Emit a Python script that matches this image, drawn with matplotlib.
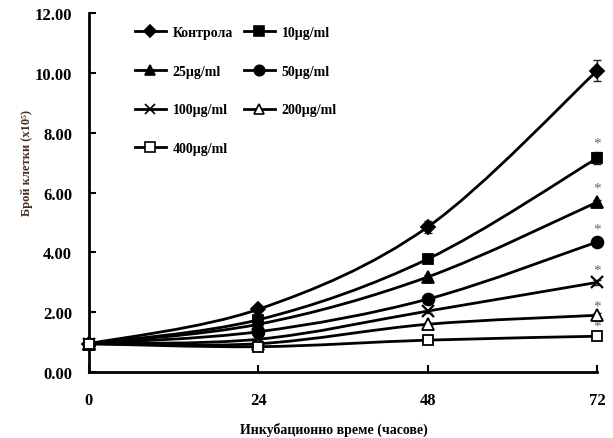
import numpy as np
import matplotlib.pyplot as plt
from matplotlib.path import Path
from matplotlib.patches import PathPatch
from matplotlib.lines import Line2D

plt.rcParams['font.family'] = ['Liberation Serif', 'DejaVu Serif']
plt.rcParams['font.weight'] = 'bold'

hours = [0, 24, 48, 72]
labels = ['Контрола', '10µg/ml', '25µg/ml', '50µg/ml', '100µg/ml', '200µg/ml', '400µg/ml']
counts = [
    [0.95, 2.10, 4.85, 10.07],
    [0.95, 1.75, 3.78, 7.15],
    [0.95, 1.60, 3.18, 5.68],
    [0.95, 1.35, 2.44, 4.35],
    [0.95, 1.10, 2.04, 3.00],
    [0.95, 0.95, 1.60, 1.90],
    [0.95, 0.85, 1.07, 1.20],
]
errors = [
    [0, 0.05, 0.20, 0.35],
    [0, 0.05, 0.05, 0.20],
    [0, 0.03, 0.05, 0.08],
    [0, 0.03, 0.05, 0.08],
    [0, 0.03, 0.05, 0.08],
    [0, 0.03, 0.05, 0.08],
    [0, 0.03, 0.05, 0.10],
]
star_at_72 = [False, True, True, True, True, True, True]
star_offset = [0, 11, 10, 9, 9, 7, 7]  # points above the 72 h marker

markers = ['D', 's', '^', 'o', 'x', '^', 's']
faces = ['black', 'black', 'black', 'black', 'black', 'white', 'white']
sizes = [7, 7.5, 8.5, 8.5, 8.5, 8.5, 7.5]


def smooth_path(x, y, t=1/6):
    # Excel-like smoothed line: Catmull-Rom turned into cubic Bezier
    pts = np.column_stack([x, y]).astype(float)
    verts = [pts[0]]
    codes = [Path.MOVETO]
    n = len(pts)
    for i in range(n - 1):
        p0 = pts[max(i - 1, 0)]
        p1 = pts[i]
        p2 = pts[i + 1]
        p3 = pts[min(i + 2, n - 1)]
        c1 = p1 + (p2 - p0) * t
        c2 = p2 - (p3 - p1) * t
        verts += [c1, c2, p2]
        codes += [Path.CURVE4] * 3
    return Path(verts, codes)


fig = plt.figure(figsize=(6.13, 4.39), dpi=100)
ax = fig.add_axes([0.145, 0.150, 0.829, 0.818])

handles = []
for i, lab in enumerate(labels):
    ax.add_patch(PathPatch(smooth_path(hours, counts[i]), fill=False,
                           edgecolor='black', lw=2, zorder=2, clip_on=False))
    ax.errorbar(hours, counts[i], yerr=errors[i], fmt='none', ecolor='#222222',
                elinewidth=1, capsize=3, zorder=3, clip_on=False)
    ax.plot(hours, counts[i], ls='none', marker=markers[i], ms=sizes[i],
            mfc=faces[i], mec='black', mew=1.3 if markers[i] != 'x' else 1.6,
            zorder=4, clip_on=False)
    handles.append(Line2D([], [], color='black', lw=2, marker=markers[i],
                          ms=sizes[i] - 1, mfc=faces[i], mec='black', mew=1.2))
    if star_at_72[i]:
        ax.annotate('*', (hours[-1], counts[i][-1]), xytext=(0, star_offset[i]),
                    textcoords='offset points', ha='center', va='center',
                    fontsize=11, color='#666666', fontweight='normal')

ax.set_xlim(0, 72)
ax.set_ylim(0, 12)
ax.set_xticks(hours)
ax.set_yticks(np.arange(0, 13, 2))
ax.set_yticklabels([f'{v:.2f}' for v in np.arange(0, 13, 2)])
ax.tick_params(direction='in', length=5, width=1.5, labelsize=12)
ax.tick_params(axis='x', pad=14)
ax.tick_params(axis='y', pad=12)
for s in ['top', 'right']:
    ax.spines[s].set_visible(False)
for s in ['left', 'bottom']:
    ax.spines[s].set_linewidth(2)

ax.set_xlabel('Инкубационно време (часове)', fontsize=10, fontweight='bold')
ax.xaxis.set_label_coords(0.482, -0.138)
ax.set_ylabel('Брой клетки (x10⁵)', fontsize=9, fontweight='bold', color='#4a3020')
ax.yaxis.set_label_coords(-0.110, 0.585)

order = [0, 2, 4, 6, 1, 3, 5]
ax.legend([handles[k] for k in order], [labels[k] for k in order], ncol=2,
          frameon=False, loc='upper left', bbox_to_anchor=(135 / 613, 1 - 27 / 439),
          bbox_transform=fig.transFigure, borderpad=0, borderaxespad=0,
          labelspacing=1.85, columnspacing=0.8, handlelength=2.2, handletextpad=0.5,
          prop={'size': 10, 'weight': 'bold'})

fig.savefig('out.png', dpi=100)
